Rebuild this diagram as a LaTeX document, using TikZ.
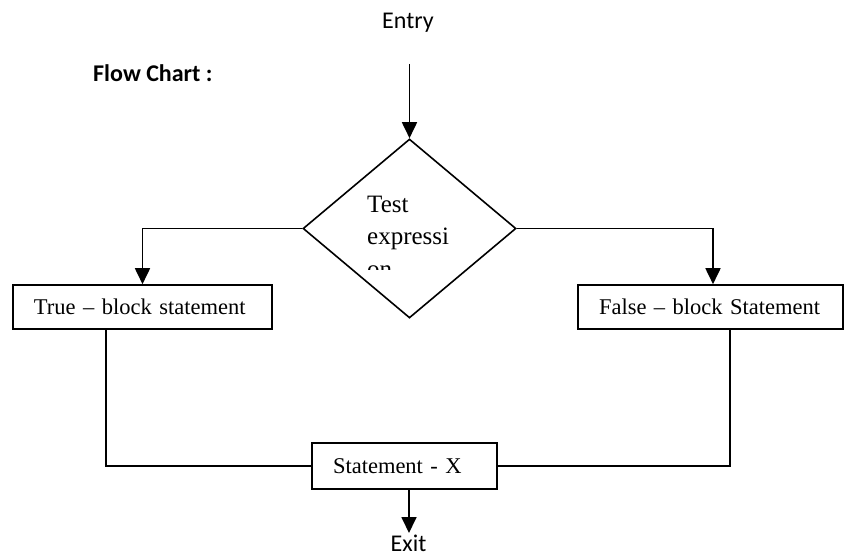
\documentclass[tikz,border=0pt]{standalone}
\usepackage{fontspec}
\setmainfont{Liberation Serif}
\newfontfamily\calibri{Carlito}
\usetikzlibrary{arrows.meta,shapes.geometric}
\tikzset{
  stmtbox/.style={draw, line width=1.6pt, inner ysep=0pt, inner xsep=21pt,
    minimum height=44pt, align=left, font=\fontsize{22.5}{26}\selectfont},
  decision/.style={draw, diamond, line width=1.6pt, inner sep=0pt,
    minimum width=213pt, minimum height=179pt, aspect=1.19},
  link/.style={line width=1.8pt},
  arr/.style={link, -{Triangle[length=16pt,width=15pt]}},
  label/.style={font=\calibri\fontsize{24}{28}\selectfont, inner sep=0pt},
  difftext/.style={font=\fontsize{25}{30}\selectfont, inner sep=0pt, anchor=base west}
}
\begin{document}
\begin{tikzpicture}[x=1pt, y=-1pt]
  \useasboundingbox (0,0) rectangle (847,556);

  % headings
  \node[label, anchor=base west] (entry) at (382,29) {Entry};
  \node[label, anchor=base west, font=\calibri\bfseries\fontsize{24}{28}\selectfont] (title) at (93,82) {Flow Chart :};

  % decision diamond and its clipped text
  \node[decision] (test) at (409.5,228.5) {};
  \begin{scope}
    \clip (330,180) rectangle (500,269.5);
    \node[difftext] (t1) at (367,212.5) {Test};
    \node[difftext] (t2) at (367,245) {expressi};
    \node[difftext] (t3) at (367,277.5) {on};
  \end{scope}

  % statement blocks (text set flush left inside each box)
  \node[stmtbox, text width=217pt] (tb) at (142.5,307) {True – block statement};
  \node[stmtbox, text width=223pt] (fb) at (710.5,307) {False – block Statement};
  \node[stmtbox, text width=143pt, minimum height=46pt] (sx) at (404.5,466) {Statement - X};
  \node[label, anchor=base] (exit) at (408.5,551) {Exit};

  % connectors
  \coordinate (in) at (409.5,64);
  \coordinate (out) at (409,533);
  \draw[arr] (in) -- (test.north);
  \draw[arr] (test.west) -| (tb.north);
  \draw[arr] (test.east) -| ([xshift=2.5pt]fb.north);
  \draw[link] ([xshift=-36.5pt]tb.south) |- (sx.west);
  \draw[link] ([xshift=19.5pt]fb.south) |- (sx.east);
  \draw[arr] ([xshift=4.5pt]sx.south) -- (out);
\end{tikzpicture}
\end{document}
